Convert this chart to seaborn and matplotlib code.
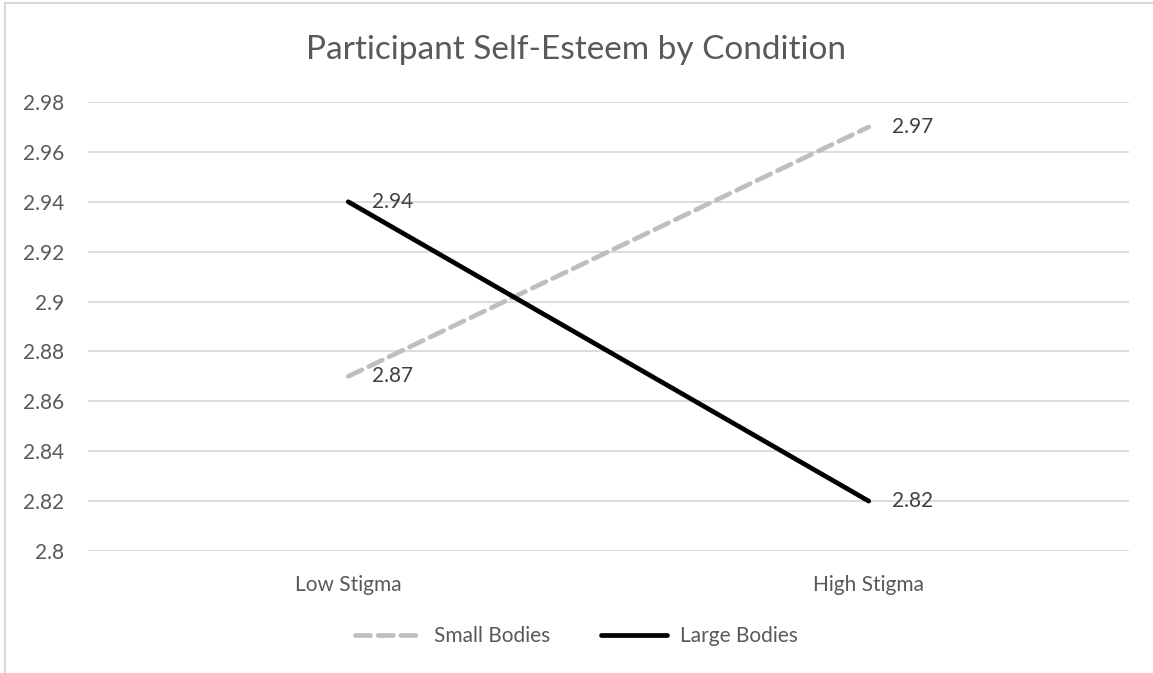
import matplotlib
matplotlib.use("Agg")
import matplotlib.pyplot as plt
from matplotlib.lines import Line2D
import pandas as pd
import seaborn as sns

# data
conditions = ["Low Stigma", "High Stigma"]
small_bodies = [2.87, 2.97]
large_bodies = [2.94, 2.82]
series_names = ["Small Bodies", "Large Bodies"]
y_ticks = [2.8, 2.82, 2.84, 2.86, 2.88, 2.9, 2.92, 2.94, 2.96, 2.98]
y_tick_labels = ["2.8", "2.82", "2.84", "2.86", "2.88", "2.9", "2.92", "2.94", "2.96", "2.98"]

df = pd.DataFrame({
    "pos": list(range(len(conditions))) * 2,
    "value": small_bodies + large_bodies,
    "series": [series_names[0]] * len(conditions) + [series_names[1]] * len(conditions),
})

sns.set_style("white")
plt.rcParams["font.family"] = ["Lato", "DejaVu Sans"]
text_color = "#595959"
grid_color = "#D9D9D9"
fs = 15

fig = plt.figure(figsize=(11.53, 6.73), dpi=100)
ax = fig.add_axes([88 / 1153, 1 - 551 / 673, 1041 / 1153, 449 / 673])

colors = {"Small Bodies": "#BFBFBF", "Large Bodies": "#000000"}
sns.lineplot(data=df, x="pos", y="value", hue="series", palette=colors,
             legend=False, ax=ax, zorder=3)
styles = {"Small Bodies": (0, (3.2, 1.6)), "Large Bodies": "-"}
for line, name in zip(ax.lines, series_names):
    line.set_linestyle(styles[name])
    line.set_linewidth(3.4)
    line.set_solid_capstyle("round")
    line.set_dash_capstyle("round")

# data labels to the right of each point
for name, vals in zip(series_names, [small_bodies, large_bodies]):
    for i, v in enumerate(vals):
        ax.annotate(f"{v:.2f}", (i, v), xytext=(17, 0), textcoords="offset points",
                    va="center", ha="left", fontsize=fs, color="#404040")

ax.set_xlim(-0.5, len(conditions) - 0.5)
ax.set_ylim(2.8, 2.98)
ax.set_yticks(y_ticks)
ax.set_yticklabels(y_tick_labels)
ax.set_xticks(range(len(conditions)))
ax.set_xticklabels(conditions)
ax.tick_params(axis="both", length=0, labelsize=fs, labelcolor=text_color)
ax.tick_params(axis="y", pad=17)
ax.tick_params(axis="x", pad=17)
ax.grid(axis="y", color=grid_color, linewidth=1.3)
ax.set_axisbelow(True)
for s in ax.spines.values():
    s.set_visible(False)
ax.set_xlabel("")
ax.set_ylabel("")

fig.text(0.5, 1 - 50 / 673, "Participant Self-Esteem by Condition",
         ha="center", va="center", fontsize=24, color=text_color)

handles = [Line2D([0], [0], color=colors[n], linestyle=styles[n], linewidth=3.4,
                  solid_capstyle="round", dash_capstyle="round") for n in series_names]
fig.legend(handles, series_names, loc="center", bbox_to_anchor=(0.5, 1 - 636 / 673),
           ncol=2, frameon=False, fontsize=fs, labelcolor=text_color,
           handlelength=3.2, handletextpad=0.6, columnspacing=2.4)

# chart border (top and left edges visible in the reference)
fig.add_artist(Line2D([5 / 1153, 1], [1 - 3 / 673, 1 - 3 / 673], color=grid_color, linewidth=1.5))
fig.add_artist(Line2D([5 / 1153, 5 / 1153], [0, 1 - 3 / 673], color=grid_color, linewidth=1.5))

fig.savefig("out.png", dpi=100)
